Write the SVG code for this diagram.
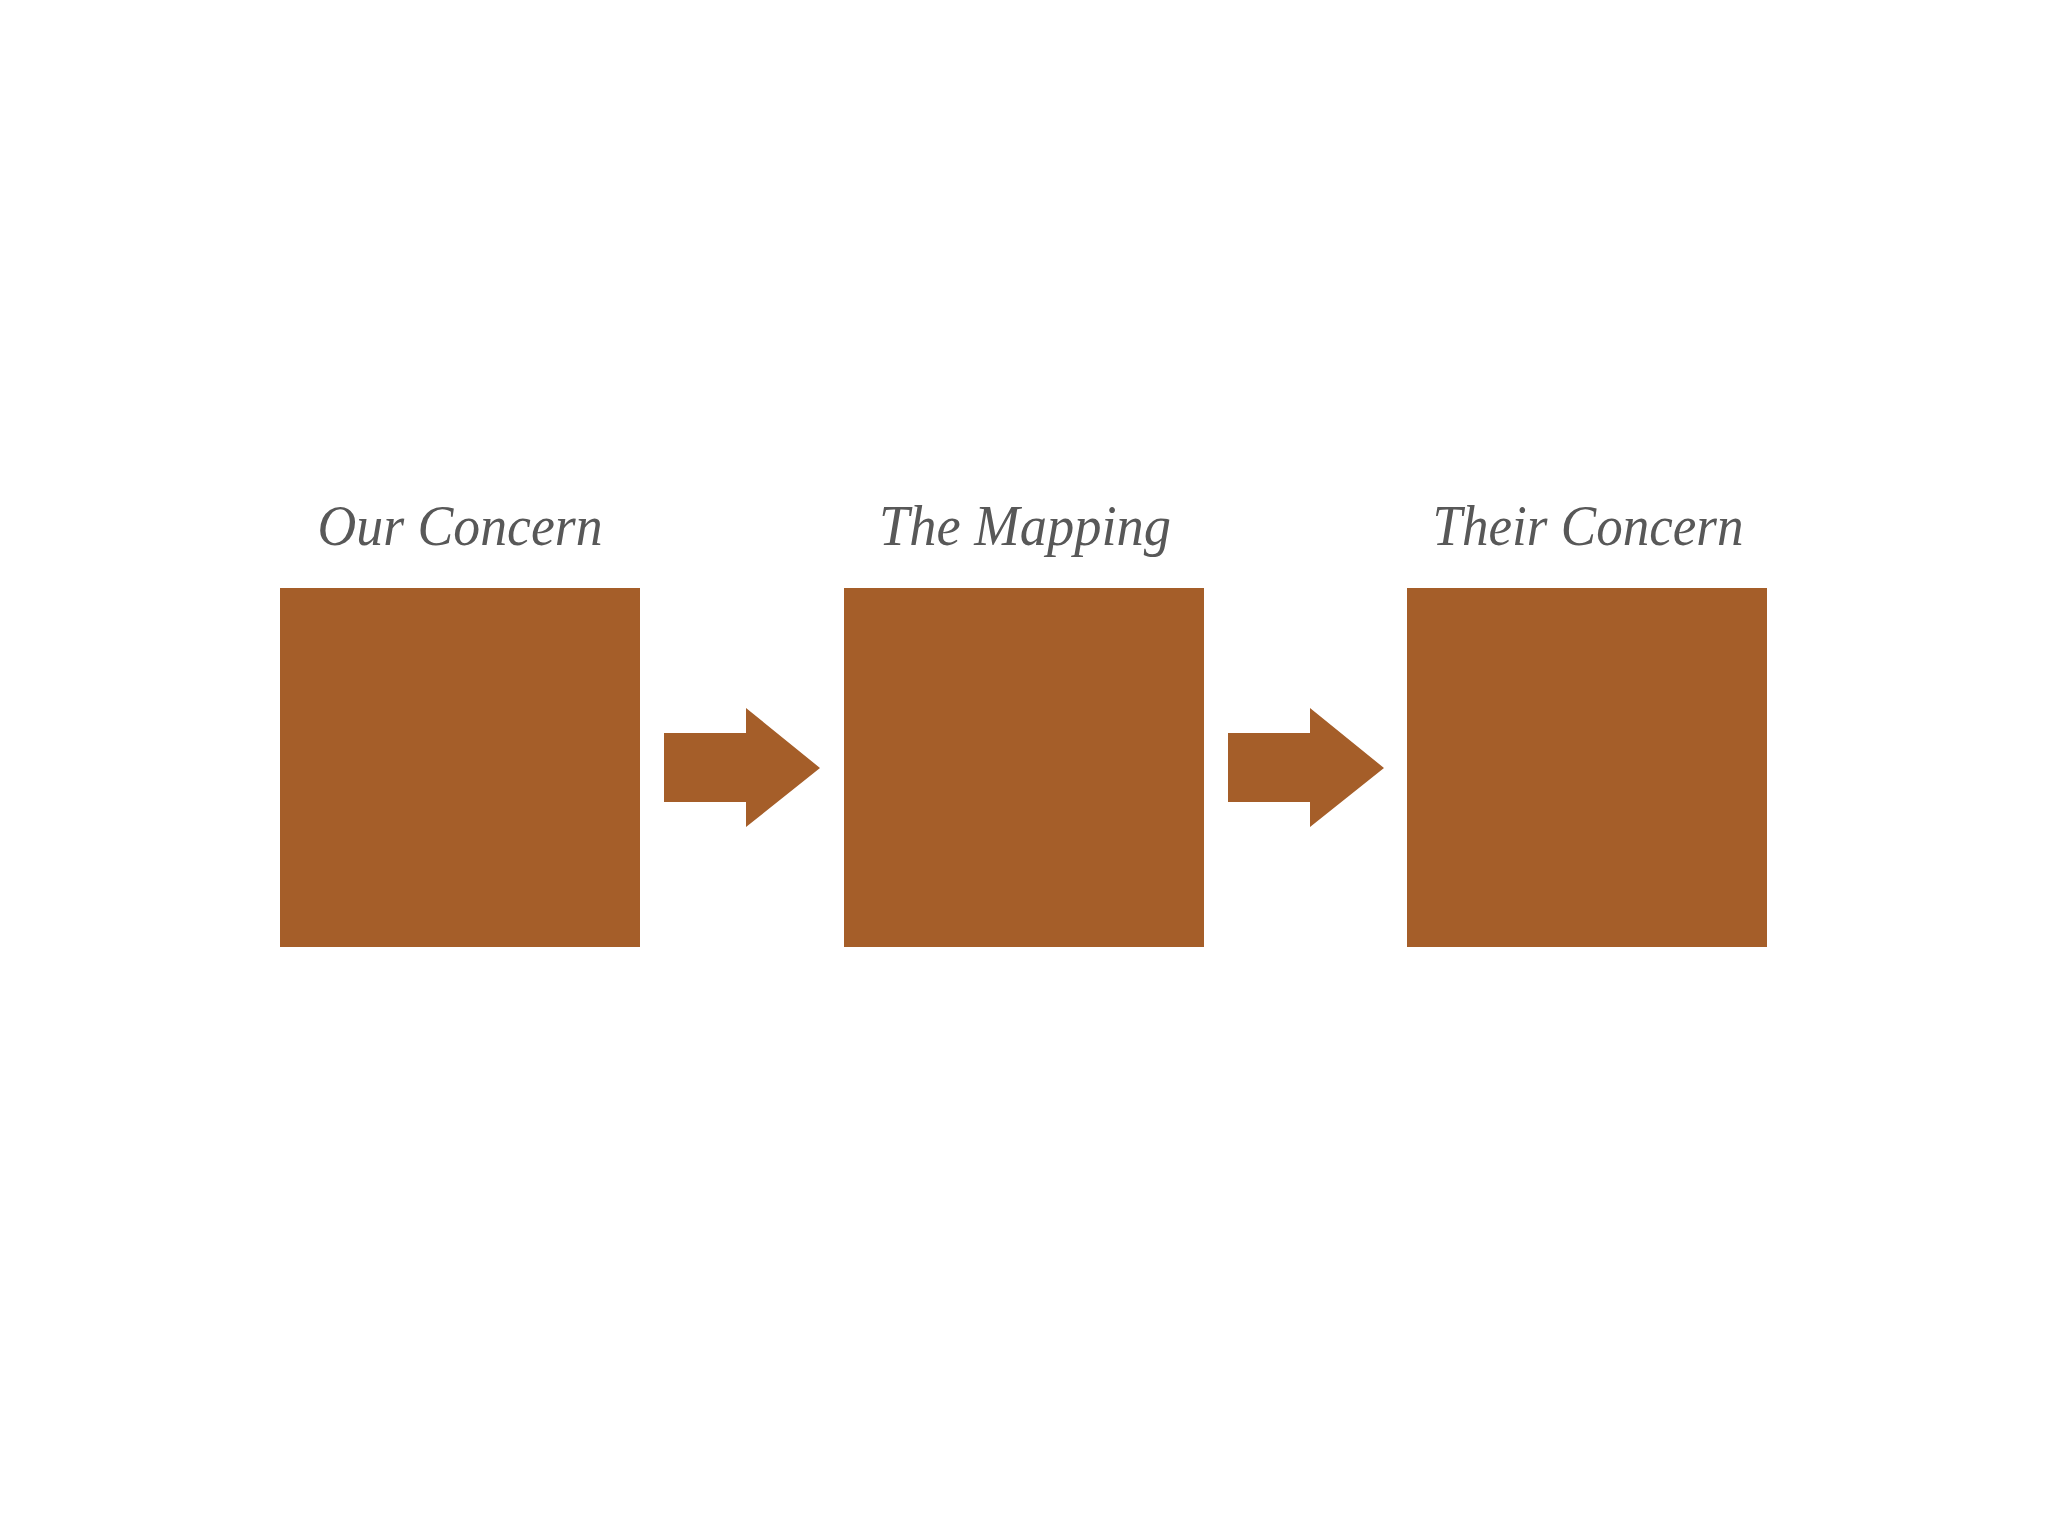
<svg xmlns="http://www.w3.org/2000/svg" width="2048" height="1536" viewBox="0 0 2048 1536">
  <style>
    .box { fill: #A55E29; }
    .arrow { fill: #A55E29; }
    .label { font-family: "Liberation Serif", "DejaVu Serif", serif; font-style: italic; font-size: 57px; fill: #585858; text-anchor: middle; }
  </style>
  <rect width="2048" height="1536" fill="#FFFFFF"/>
  <g id="node-our-concern">
    <rect class="box" x="280" y="588" width="360" height="359"/>
    <text class="label" x="460" y="545" textLength="285" lengthAdjust="spacingAndGlyphs">Our Concern</text>
  </g>
  <g id="node-the-mapping">
    <rect class="box" x="844" y="588" width="360" height="359"/>
    <text class="label" x="1025" y="545" textLength="292" lengthAdjust="spacingAndGlyphs">The Mapping</text>
  </g>
  <g id="node-their-concern">
    <rect class="box" x="1407" y="588" width="360" height="359"/>
    <text class="label" x="1588" y="545" textLength="311" lengthAdjust="spacingAndGlyphs">Their Concern</text>
  </g>
  <g id="connectors">
    <polygon class="arrow" points="664,733 746,733 746,708 820,768 746,827 746,802 664,802"/>
    <polygon class="arrow" points="1228,733 1310,733 1310,708 1384,768 1310,827 1310,802 1228,802"/>
  </g>
</svg>
